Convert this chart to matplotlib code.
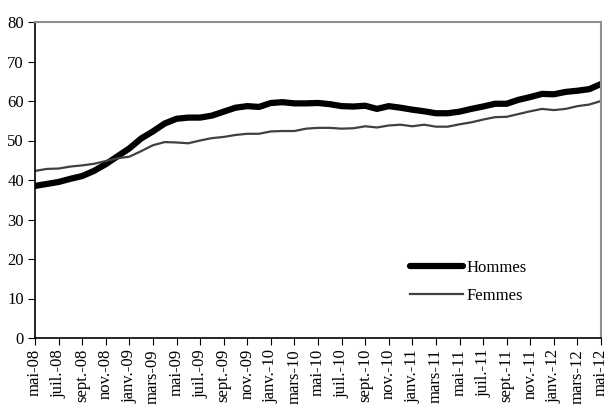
import numpy as np
import matplotlib
matplotlib.use('Agg')
import matplotlib.pyplot as plt

# mois de mai-08 a mai-12
mois = ['mai', 'juin', 'juil.', 'août', 'sept.', 'oct.', 'nov.', 'déc.',
        'janv.', 'févr.', 'mars', 'avr.']
labels = []
for i in range(49):
    an = 8 + (4 + i) // 12
    labels.append('%s-%02d' % (mois[i % 12], an))

hommes = [38.5, 39, 39.5, 40.3, 41, 42.3, 44, 46,
          48, 50.5, 52.3, 54.3, 55.5, 55.8, 55.8, 56.3, 57.3, 58.3, 58.7, 58.5,
          59.5, 59.7, 59.4, 59.4, 59.5, 59.2, 58.7, 58.6, 58.8, 58, 58.7, 58.3,
          57.8, 57.4, 56.9, 56.9, 57.3, 58, 58.6, 59.3, 59.3, 60.3, 61, 61.8,
          61.7, 62.3, 62.6, 63, 64.3]
femmes = [42.3, 42.8, 42.9, 43.4, 43.7, 44.1, 44.8, 45.5,
          45.9, 47.3, 48.8, 49.6, 49.5, 49.3, 50, 50.6, 50.9, 51.4, 51.7, 51.7,
          52.3, 52.4, 52.4, 53, 53.2, 53.2, 53, 53.1, 53.6, 53.3, 53.8, 54,
          53.6, 54, 53.5, 53.5, 54.1, 54.6, 55.3, 55.9, 56, 56.7, 57.4, 58,
          57.7, 58, 58.7, 59.1, 60]

plt.rcParams['font.family'] = ['Liberation Serif', 'DejaVu Serif']
plt.rcParams['font.size'] = 12

fig = plt.figure(figsize=(6.08, 4.12), dpi=100)
ax = fig.add_axes([35 / 608, 1 - 338 / 412, 566 / 608, 316 / 412])

x = np.arange(len(hommes))
ax.plot(x, hommes, color='black', lw=4.5, label='Hommes', solid_capstyle='round')
ax.plot(x, femmes, color='#404040', lw=1.6, label='Femmes')

ax.set_xlim(0, 48)
ax.set_ylim(0, 80)
ax.set_yticks(range(0, 81, 10))
ax.set_xticks(x[::2])
ax.set_xticklabels(labels[::2], rotation=90)
ax.tick_params(direction='out', length=5, color='black', pad=3)

for s in ['top', 'right']:
    ax.spines[s].set_color('#909090')
    ax.spines[s].set_linewidth(1.5)
for s in ['left', 'bottom']:
    ax.spines[s].set_color('black')
    ax.spines[s].set_linewidth(1.2)

ax.legend(loc='lower right', bbox_to_anchor=(0.895, 0.06), frameon=False,
          handlelength=3.2, handletextpad=0.2, labelspacing=0.75, fontsize=12)

plt.savefig('out.png', dpi=100)
